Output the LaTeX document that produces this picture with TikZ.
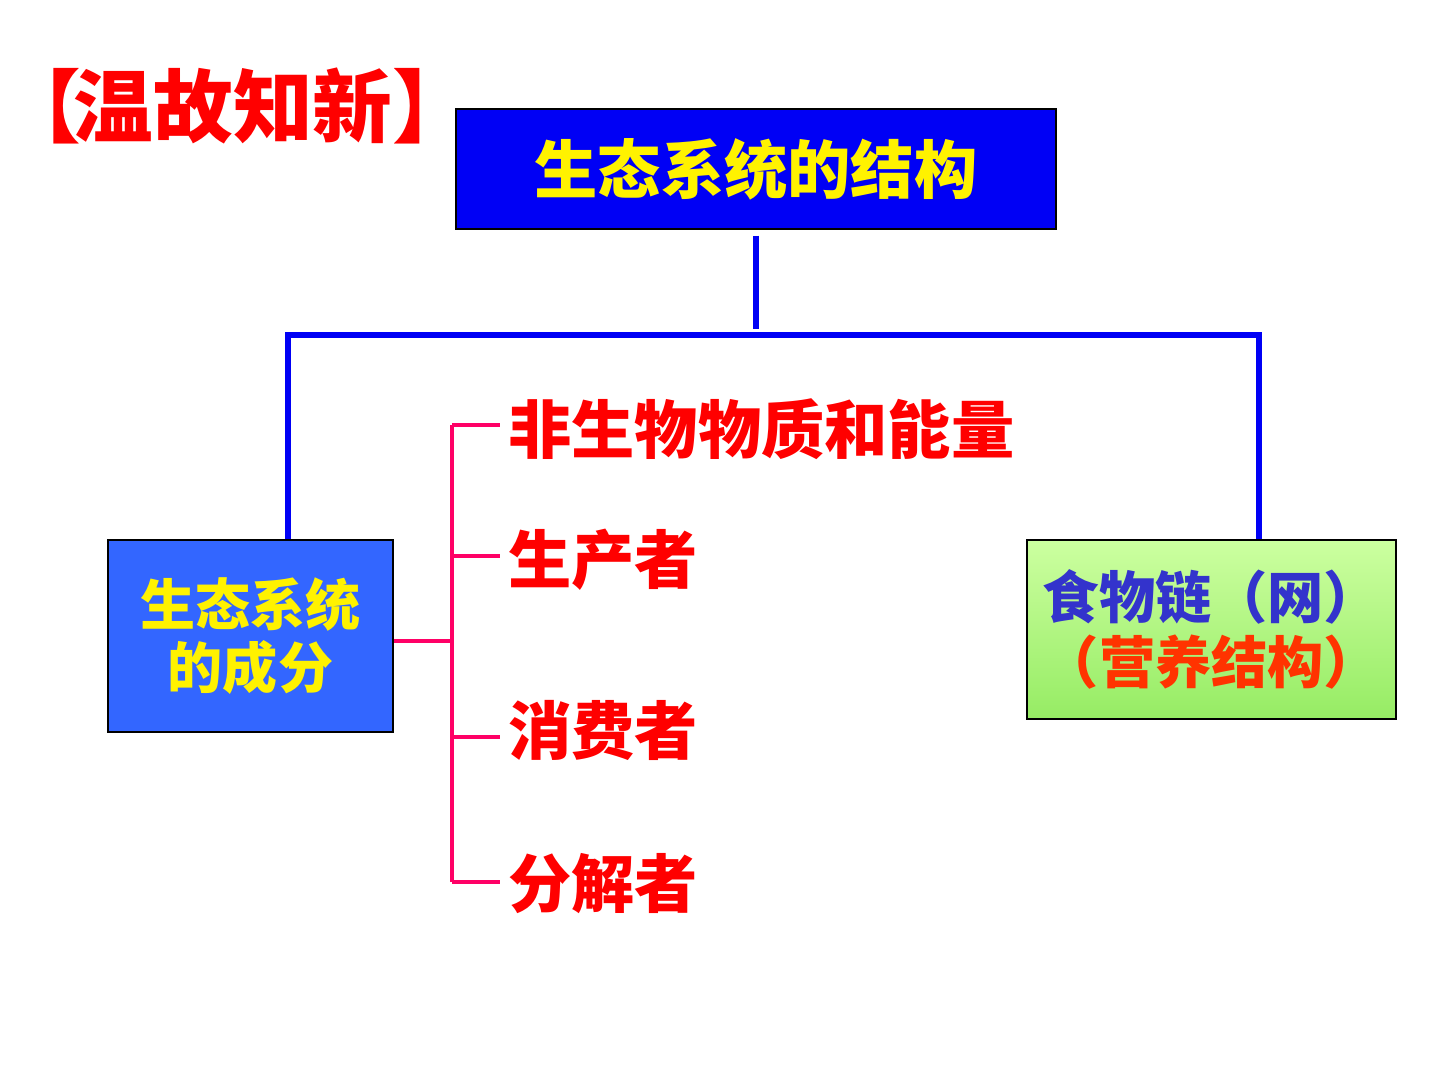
\documentclass[tikz,border=0pt]{standalone}
\usepackage{fontspec}
\newfontfamily\cjk{Noto Sans CJK SC}
\usetikzlibrary{positioning}
\definecolor{headblue}{RGB}{0,0,245}
\definecolor{partblue}{RGB}{51,102,255}
\definecolor{chainblue}{RGB}{51,51,204}
\definecolor{chainred}{RGB}{255,51,0}
\definecolor{barpink}{RGB}{255,0,102}
\definecolor{greentop}{RGB}{204,255,160}
\definecolor{greenbot}{RGB}{150,236,100}

\begin{document}
\begin{tikzpicture}[x=0.3mm, y=-0.3mm,
    every node/.style={inner sep=0pt, font=\cjk\bfseries},
    bluebar/.style={draw=headblue, line width=4.3pt},
    pinkbar/.style={draw=barpink, line width=3.4pt},
    part/.style={anchor=west, text=red, font=\cjk\bfseries\fontsize{54}{60}\selectfont}]

  \def \pw {0.3mm} % one pixel of the reference
  \useasboundingbox (0,0) rectangle (1440,1080);

  % title line and the three boxes
  \node[anchor=west, text=red, font=\cjk\bfseries\fontsize{68}{72}\selectfont]
    (review) at (1,106) {【\hspace{-6pt}温故知新】};
  \node[draw=black, fill=headblue, text=yellow, line width=1pt,
        minimum width=600*\pw, minimum height=120*\pw,
        font=\cjk\bfseries\fontsize{54}{60}\selectfont]
    (structure) at (756,169) {生态系统的结构};
  \node[draw=black, fill=partblue, text=yellow, line width=1pt, align=center,
        minimum width=285*\pw, minimum height=192*\pw,
        font=\cjk\bfseries\fontsize{47}{54}\selectfont]
    (parts) at (250.5,636) {生态系统\\的成分};
  \node[draw=black, top color=greentop, bottom color=greenbot, line width=1pt,
        align=center, minimum width=369*\pw, minimum height=179*\pw,
        font=\cjk\bfseries\fontsize{48}{55.5}\selectfont]
    (chain) at (1211.5,629.5)
    {\textcolor{chainblue}{食物链（网）}\\\textcolor{chainred}{（营养结构）}};

  % blue tree
  \coordinate (hl) at (288,335);
  \coordinate (hr) at (1259,335);
  \draw[bluebar, shorten <=6*\pw, shorten >=6*\pw] (structure.south) -- (structure.south |- hl);
  \draw[bluebar] (parts.north -| hl) -- (hl) -- (hr) -- (chain.north -| hr);

  % pink bracket with the four components
  \coordinate (spine) at (452,641);
  \draw[pinkbar] (spine -| parts.east) -- (spine);
  \foreach \name/\txt/\y/\by in {abio/非生物物质和能量/429/425, prod/生产者/560/556,
                                 cons/消费者/730/737, deco/分解者/884/882} {
    \node[part] (\name) at (508,\y) {\txt};
    \draw[pinkbar, shorten >=8*\pw] (spine |- 0,\by) -- (\name.west |- 0,\by);
  }
  \draw[pinkbar] (spine |- 0,425) -- (spine |- 0,882);
\end{tikzpicture}
\end{document}
